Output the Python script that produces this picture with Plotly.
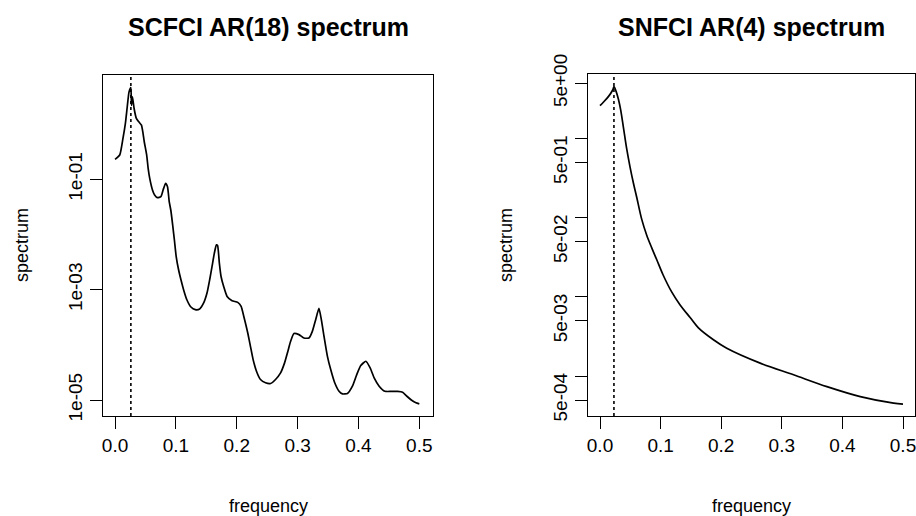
import plotly.graph_objects as go

# ---- data ----
scfci_freq = [0.000, 0.0077, 0.013, 0.017, 0.020, 0.023, 0.026, 0.027, 0.0286, 0.0313,
              0.035, 0.039, 0.0434, 0.046, 0.048, 0.052, 0.0544, 0.057, 0.0615, 0.065,
              0.0697, 0.0753, 0.079, 0.083, 0.0862, 0.089, 0.0918, 0.095, 0.0978, 0.1005,
              0.1044, 0.1083, 0.1126, 0.118, 0.1247, 0.1319, 0.139, 0.1456, 0.1511, 0.1555,
              0.1594, 0.1632, 0.1665, 0.1685, 0.1714, 0.1742, 0.1785, 0.1841, 0.1923, 0.2016,
              0.2072, 0.2116, 0.2181, 0.2225, 0.2269, 0.2324, 0.2390, 0.2473, 0.2555, 0.2637,
              0.272, 0.2786, 0.284, 0.2885, 0.294, 0.3022, 0.3104, 0.3187, 0.3242, 0.3297,
              0.3351, 0.339, 0.3434, 0.349, 0.3544, 0.361, 0.3681, 0.3737, 0.3819, 0.3901,
              0.3972, 0.4038, 0.4121, 0.4192, 0.4258, 0.434, 0.4434, 0.4533, 0.4643, 0.4726,
              0.4796, 0.4874, 0.4945, 0.5]
scfci_spec = [0.230, 0.275, 0.551, 1.03, 2.04, 3.84, 4.57, 2.19, 3.12, 1.92,
              1.27, 1.10, 0.959, 0.679, 0.479, 0.275, 0.158, 0.104, 0.0641, 0.0520,
              0.0465, 0.0484, 0.0641, 0.0847, 0.0735, 0.0394, 0.0269, 0.0139, 0.00745, 0.00398,
              0.00229, 0.00151, 0.00100, 0.000656, 0.000484, 0.000434, 0.000446, 0.000573, 0.000867, 0.00151,
              0.00263, 0.00459, 0.00649, 0.00631, 0.00302, 0.00173, 0.00114, 0.000753, 0.000631, 0.000587,
              0.000497, 0.000327, 0.000164, 9.40e-5, 5.40e-5, 3.32e-5, 2.35e-5, 2.05e-5, 1.99e-5, 2.35e-5,
              3.10e-5, 4.71e-5, 7.64e-5, 0.000116, 0.000160, 0.000153, 0.000133, 0.000133, 0.000175, 0.000286,
              0.000457, 0.000286, 0.000143, 6.19e-5, 3.56e-5, 2.05e-5, 1.44e-5, 1.29e-5, 1.31e-5, 1.78e-5,
              2.89e-5, 4.21e-5, 5.04e-5, 3.82e-5, 2.52e-5, 1.78e-5, 1.44e-5, 1.43e-5, 1.43e-5, 1.38e-5,
              1.17e-5, 9.91e-6, 8.89e-6, 8.51e-6]
scfci_peak = 0.026

snfci_freq = [0.0, 0.0055, 0.0138, 0.021, 0.0231, 0.0264, 0.0303, 0.0342, 0.0385, 0.0441,
              0.0496, 0.0551, 0.0606, 0.0689, 0.0771, 0.0854, 0.0937, 0.104, 0.1185, 0.1322,
              0.1487, 0.1624, 0.1872, 0.2092, 0.2643, 0.3194, 0.3744, 0.4295, 0.4845, 0.5]
snfci_spec = [2.61, 2.88, 3.39, 4.11, 4.53, 3.98, 3.16, 2.29, 1.41, 0.741,
              0.437, 0.275, 0.182, 0.0955, 0.0603, 0.0417, 0.0295, 0.0191, 0.0115, 0.00794,
              0.00550, 0.00407, 0.00288, 0.00225, 0.00146, 0.00104, 0.000738, 0.000552, 0.000456, 0.000443]
snfci_peak = 0.023

x_ticks = [0.0, 0.1, 0.2, 0.3, 0.4, 0.5]
x_ticktext = ["0.0", "0.1", "0.2", "0.3", "0.4", "0.5"]
left_yticks = [1e-5, 1e-3, 1e-1]
left_yticktext = ["1e-05", "1e-03", "1e-01"]
right_yticks = [5e-4, 1e-3, 5e-3, 1e-2, 5e-2, 1e-1, 5e-1, 1.0, 5.0]
right_yticktext = ["5e-04", "", "5e-03", "", "5e-02", "", "5e-01", "", "5e+00"]

titles = ["SCFCI AR(18) spectrum", "SNFCI AR(4) spectrum"]
xlabel = "frequency"
ylabel = "spectrum"

W, H = 916, 516
FONT = "Liberation Sans, Arial, sans-serif"

fig = go.Figure()
fig.add_trace(go.Scatter(x=scfci_freq, y=scfci_spec, mode="lines",
                         line=dict(color="black", width=1.7, shape="spline", smoothing=0.5),
                         xaxis="x", yaxis="y", showlegend=False, hoverinfo="skip"))
fig.add_trace(go.Scatter(x=snfci_freq, y=snfci_spec, mode="lines",
                         line=dict(color="black", width=1.7, shape="spline", smoothing=0.9),
                         xaxis="x2", yaxis="y2", showlegend=False, hoverinfo="skip"))

fig.add_shape(type="line", xref="x", yref="y domain", x0=scfci_peak, x1=scfci_peak, y0=0, y1=1,
              line=dict(color="black", width=1.6, dash="dot"))
fig.add_shape(type="line", xref="x2", yref="y2 domain", x0=snfci_peak, x1=snfci_peak, y0=0, y1=1,
              line=dict(color="black", width=1.6, dash="dot"))

# plot boxes (pixel positions)
L = dict(x0=103, x1=433, y0=75, y1=416)
R = dict(x0=588, x1=915, y0=74, y1=416)

def dom_x(b):
    return [b["x0"] / W, b["x1"] / W]

def dom_y(b):
    return [1 - b["y1"] / H, 1 - b["y0"] / H]

axis_common = dict(showline=True, linecolor="black", linewidth=1, mirror=True,
                   ticks="outside", ticklen=12, tickwidth=1, tickcolor="black",
                   showgrid=False, zeroline=False, automargin=False,
                   ticklabeloverflow="allow",
                   tickfont=dict(family=FONT, size=19, color="black"))

fig.update_layout(
    template="none",
    width=W, height=H, margin=dict(l=0, r=0, t=0, b=0, pad=0, autoexpand=False),
    paper_bgcolor="white", plot_bgcolor="white",
    xaxis=dict(domain=dom_x(L), anchor="y", range=[-0.0198, 0.5225],
               tickvals=x_ticks, ticktext=x_ticktext, **axis_common),
    yaxis=dict(domain=dom_y(L), anchor="x", type="log", range=[-5.29, 0.89],
               tickvals=left_yticks, ticktext=left_yticktext, tickangle=-90, **axis_common),
    xaxis2=dict(domain=dom_x(R), anchor="y2", range=[-0.0198, 0.5198],
                tickvals=x_ticks, ticktext=x_ticktext, **axis_common),
    yaxis2=dict(domain=dom_y(R), anchor="x2", type="log", range=[-3.503, 0.816],
                tickvals=right_yticks, ticktext=right_yticktext, tickangle=-90, **axis_common),
)

ann = []
for b, t in zip([L, R], titles):
    cx = (b["x0"] + b["x1"]) / 2
    ann.append(dict(text="<b>%s</b>" % t, x=cx / W, y=1 - 27 / H, xref="paper", yref="paper",
                    showarrow=False, xanchor="center", yanchor="middle",
                    font=dict(family=FONT, size=25, color="black")))
    ann.append(dict(text=xlabel, x=cx / W, y=1 - 506 / H, xref="paper", yref="paper",
                    showarrow=False, xanchor="center", yanchor="middle",
                    font=dict(family=FONT, size=18, color="black")))
ann.append(dict(text=ylabel, x=22 / W, y=1 - 245 / H, xref="paper", yref="paper", textangle=-90,
                showarrow=False, xanchor="center", yanchor="middle",
                font=dict(family=FONT, size=18, color="black")))
ann.append(dict(text=ylabel, x=506 / W, y=1 - 245 / H, xref="paper", yref="paper", textangle=-90,
                showarrow=False, xanchor="center", yanchor="middle",
                font=dict(family=FONT, size=18, color="black")))
fig.update_layout(annotations=ann)

fig.write_html("out.html")
